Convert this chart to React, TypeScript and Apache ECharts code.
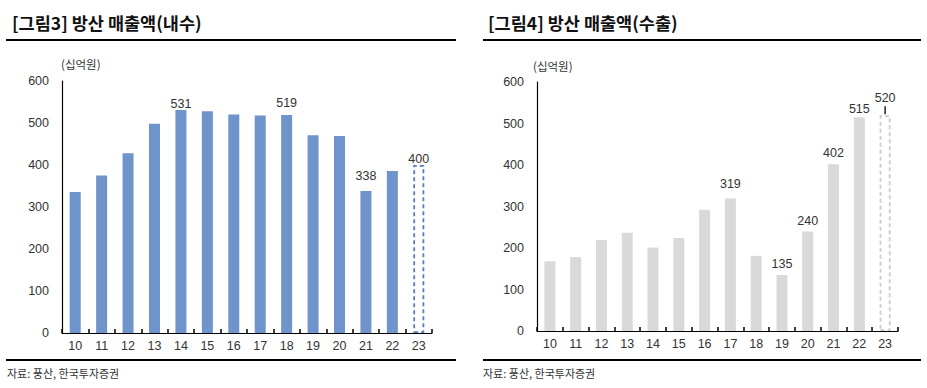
import React, { useEffect, useRef } from "react";
import * as echarts from "echarts";

const years = ["10", "11", "12", "13", "14", "15", "16", "17", "18", "19", "20", "21", "22", "23"];
const domestic = [336, 375, 428, 498, 531, 528, 520, 518, 519, 471, 469, 338, 386, 400];
const exportSales = [168, 178, 219, 237, 201, 224, 292, 319, 181, 135, 240, 402, 515, 520];
const yTicks = [0, 100, 200, 300, 400, 500, 600];
const domesticLabeled: Record<number, number> = { 4: 0, 8: 6, 11: 9, 13: 0 };
const exportLabeled: Record<number, number> = { 7: 8, 9: 5, 10: 4, 11: 5, 12: 2, 13: 1 };
const titleLeft = "[그림3] 방산 매출액(내수)";
const titleRight = "[그림4] 방산 매출액(수출)";
const unitText = "(십억원)";
const sourceText = "자료: 풍산, 한국투자증권";

const FONT = "'Liberation Sans', Arial, 'Noto Sans CJK KR', sans-serif";
const KFONT = "'Noto Sans CJK KR', 'Liberation Sans', sans-serif";

export default function App() {
  const ref = useRef<HTMLDivElement>(null);
  useEffect(() => {
    if (!ref.current) return;
    const chart = echarts.init(ref.current, undefined, { renderer: "svg" });
    const last = years.length - 1;

    const buildData = (
      vals: number[],
      labeled: Record<number, number>,
      fill: string,
      dashColor: string,
      leader: boolean
    ) =>
      vals.map((v, i) => {
        const item: any = { value: v };
        if (i === last) {
          item.itemStyle = {
            color: "#ffffff",
            borderColor: dashColor,
            borderWidth: 1.8,
            borderType: [4, 3],
          };
        } else {
          item.itemStyle = { color: fill };
        }
        if (labeled[i] !== undefined) {
          item.label = {
            show: true,
            position: "top",
            distance: labeled[i],
            color: "#333",
            fontSize: 12.5,
            fontFamily: FONT,
          };
          if (leader && i === last) {
            item.label.formatter = "{v|{c}}\n{l|}";
            item.label.rich = {
              v: { color: "#333", fontSize: 12.5, fontFamily: FONT, lineHeight: 17, align: "center" },
              l: { width: 1.3, height: 8, backgroundColor: "#000", align: "center" },
            };
          }
        }
        return item;
      });

    const xAxisBase = (gridIndex: number) => ({
      type: "category",
      gridIndex,
      data: years,
      axisLine: { show: true, lineStyle: { color: "#000", width: 1.2 } },
      axisTick: { show: true, inside: true, length: 4, lineStyle: { color: "#000", width: 1.5 } },
      axisLabel: { color: "#333", fontSize: 12.5, fontFamily: FONT, margin: 7 },
    });
    const yAxisBase = (gridIndex: number) => ({
      type: "value",
      gridIndex,
      min: yTicks[0],
      max: yTicks[yTicks.length - 1],
      interval: 100,
      axisLine: { show: true, lineStyle: { color: "#000", width: 1.2 } },
      axisTick: { show: false },
      splitLine: { show: false },
      axisLabel: { color: "#333", fontSize: 12.5, fontFamily: FONT, margin: 13 },
    });

    const lineStyle = { stroke: "#000", lineWidth: 2 };

    const graphics: any[] = [
      {
        type: "text",
        left: 12,
        top: 14,
        style: { text: titleLeft, fontSize: 17.5, fontWeight: "bold", fontFamily: KFONT, fill: "#111" },
      },
      {
        type: "text",
        left: 488,
        top: 14,
        style: { text: titleRight, fontSize: 17.5, fontWeight: "bold", fontFamily: KFONT, fill: "#111" },
      },
      { type: "line", shape: { x1: 6, y1: 40, x2: 456, y2: 40 }, style: lineStyle },
      { type: "line", shape: { x1: 483, y1: 40, x2: 921, y2: 40 }, style: lineStyle },
      { type: "line", shape: { x1: 6, y1: 360, x2: 456, y2: 360 }, style: lineStyle },
      { type: "line", shape: { x1: 483, y1: 360, x2: 921, y2: 360 }, style: lineStyle },
      {
        type: "text",
        left: 61,
        top: 58,
        style: { text: unitText, fontSize: 11.5, fontFamily: KFONT, fill: "#333" },
      },
      {
        type: "text",
        left: 533,
        top: 60,
        style: { text: unitText, fontSize: 11.5, fontFamily: KFONT, fill: "#333" },
      },
      {
        type: "text",
        left: 7,
        top: 367,
        style: { text: sourceText, fontSize: 11, fontFamily: KFONT, fill: "#333" },
      },
      {
        type: "text",
        left: 483,
        top: 367,
        style: { text: sourceText, fontSize: 11, fontFamily: KFONT, fill: "#333" },
      },
    ];

    const option: any = {
      animation: false,
      grid: [
        { left: 62, right: 495, top: 81, bottom: 55 },
        { left: 537, right: 29, top: 82, bottom: 57 },
      ],
      xAxis: [xAxisBase(0), xAxisBase(1)],
      yAxis: [yAxisBase(0), yAxisBase(1)],
      series: [
        {
          type: "bar",
          xAxisIndex: 0,
          yAxisIndex: 0,
          barWidth: 11,
          data: buildData(domestic, domesticLabeled, "#6F93CB", "#5A7EBC", false),
        },
        {
          type: "bar",
          xAxisIndex: 1,
          yAxisIndex: 1,
          barWidth: 11,
          data: buildData(exportSales, exportLabeled, "#D9D9D9", "#CCCCCC", true),
        },
      ],
      graphic: graphics,
    };
    chart.setOption(option);

    return () => chart.dispose();
  }, []);

  return (
    <div
      ref={ref}
      style={{ position: "fixed", left: 0, top: 0, width: 927, height: 388, background: "#fff" }}
    />
  );
}
